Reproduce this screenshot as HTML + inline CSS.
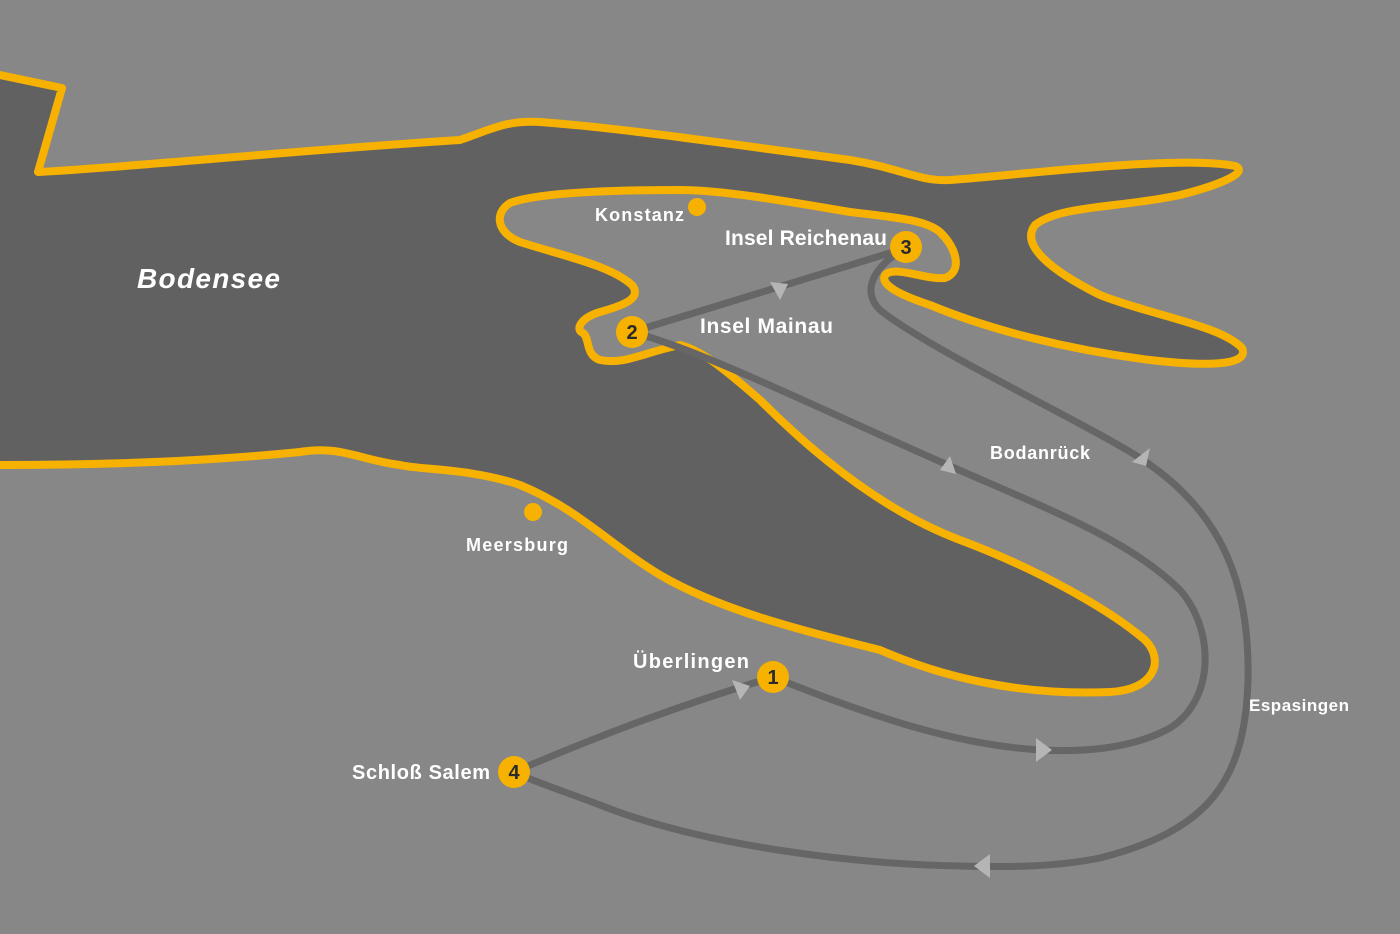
<!DOCTYPE html>
<html><head><meta charset="utf-8"><style>
html,body{margin:0;padding:0;background:#878787;}
svg{display:block}
text{font-family:"Liberation Sans",sans-serif;font-weight:bold;fill:#fff}
</style></head><body>
<svg width="1400" height="934" viewBox="0 0 1400 934" xmlns="http://www.w3.org/2000/svg">
<rect width="1400" height="934" fill="#878787"/>
<path d="M-10,75 L0,75 L62,88 L38,172 C120,168 300,150 460,140 C490,130 505,120 540,122 C620,128 700,140 850,160 C900,168 920,182 950,180 C1030,174 1180,155 1235,166 C1250,172 1220,185 1180,195 C1120,208 1060,205 1035,225 C1020,245 1050,270 1100,295 C1150,315 1220,325 1242,348 C1250,365 1210,367 1150,360 C1070,350 990,330 930,305 C900,295 880,285 885,275 C895,265 925,280 945,278 C962,272 958,250 940,232 C925,220 900,218 850,212 C780,200 720,190 680,190 C620,190 540,192 510,203 C495,212 495,232 520,242 C560,255 610,265 632,285 C642,298 625,305 600,312 C580,318 575,330 583,333 C590,338 585,355 600,360 C625,365 645,352 680,345 C700,350 720,365 760,400 C810,450 880,510 960,540 C1040,570 1110,610 1145,640 C1165,660 1155,690 1110,692 C1040,695 960,685 880,650 C800,630 720,610 660,575 C610,545 580,510 520,485 C470,468 420,470 400,465 C360,460 340,445 300,452 C200,462 100,465 0,465 L-10,465 Z" fill="#616161" stroke="#f7b100" stroke-width="8" stroke-linejoin="round"/>
<g fill="none" stroke="#666" stroke-width="7" stroke-linecap="round">
<path d="M632,332 L906,248"/>
<path d="M906,248 C875,265 860,290 880,310 C930,350 1080,420 1140,458 C1220,510 1250,580 1248,680 C1245,780 1210,830 1100,858 C1050,868 1000,867 960,866 C850,864 700,845 600,805 C560,790 530,780 514,772"/>
<path d="M632,332 C700,350 800,400 950,466 C1050,510 1130,540 1180,590 C1215,630 1215,700 1170,728 C1130,750 1080,752 1040,750 C960,745 880,720 773,677"/>
<path d="M514,772 C600,735 680,705 773,677"/>
</g>
<g fill="#b5b5b5">
<polygon points="770,282 788,284 780,300"/>
<polygon points="1132,462 1150,448 1146,466"/>
<polygon points="950,456 956,474 940,470"/>
<polygon points="1036,738 1052,750 1036,762"/>
<polygon points="990,854 990,878 974,866"/>
<polygon points="732,680 750,686 740,700"/>
</g>
<g fill="#f7b100">
<circle cx="697" cy="207" r="9"/>
<circle cx="533" cy="512" r="9"/>
<circle cx="773" cy="677" r="16"/>
<circle cx="632" cy="332" r="16"/>
<circle cx="906" cy="247" r="16"/>
<circle cx="514" cy="772" r="16"/>
</g>
<g style="fill:#2a2a2a;font-size:20px" text-anchor="middle">
<text x="773" y="684" style="fill:#2a2a2a">1</text>
<text x="632" y="339" style="fill:#2a2a2a">2</text>
<text x="906" y="254" style="fill:#2a2a2a">3</text>
<text x="514" y="779" style="fill:#2a2a2a">4</text>
</g>
<text x="137" y="288" style="font-size:28px;font-style:italic" textLength="143">Bodensee</text>
<text x="595" y="221" style="font-size:18px" textLength="89">Konstanz</text>
<text x="725" y="245" style="font-size:21px" textLength="162">Insel Reichenau</text>
<text x="700" y="333" style="font-size:21px" textLength="133">Insel Mainau</text>
<text x="990" y="459" style="font-size:18px" textLength="100">Bodanrück</text>
<text x="466" y="551" style="font-size:18px" textLength="102">Meersburg</text>
<text x="633" y="668" style="font-size:20px" textLength="116">Überlingen</text>
<text x="352" y="779" style="font-size:20px" textLength="138">Schloß Salem</text>
<text x="1249" y="711" style="font-size:17px" textLength="100">Espasingen</text>
</svg>
</body></html>
